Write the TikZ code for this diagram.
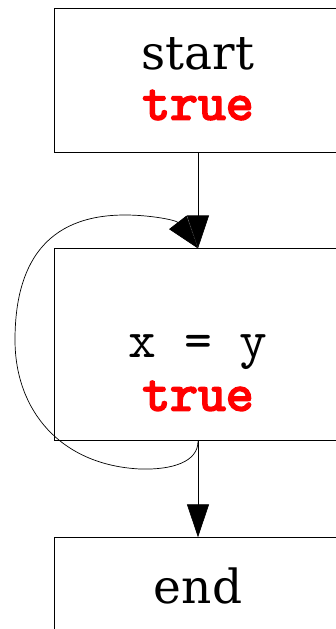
\documentclass[tikz,border=0pt]{standalone}
\usepackage{fontspec}
\setmainfont{DejaVu Serif}
\setmonofont{lmmono10-regular}[Extension=.otf]
\newfontfamily\condfont{lmmono10-regular}[Extension=.otf, FakeBold=3.5]
\usetikzlibrary{positioning, arrows.meta}
\definecolor{CondRed}{RGB}{255, 0, 0}

\begin{document}
\begin{tikzpicture}[
            stmtbox/.style={draw, line width=0.9pt, minimum width=288pt, inner sep=0pt},
            shortbox/.style={stmtbox, minimum height=144pt},
            tallbox/.style={stmtbox, minimum height=192pt},
            stmtname/.style={anchor=base, inner sep=0pt, font=\fontsize{47}{50}\selectfont},
            stmtcode/.style={stmtname, font=\fontsize{53}{50}\selectfont\ttfamily},
            stmtcond/.style={stmtname, font=\fontsize{53}{50}\selectfont\condfont, text=CondRed},
            flow/.style={-{Triangle[length=33pt, width=22pt]}, line width=0.7pt}
        ]
            \clip (0,0) rectangle (336pt,-629pt);

            % Statement boxes
            \node[shortbox] (start) at (198pt,-80pt) {};
            \node[tallbox, below=96pt of start] (assign) {};
            \node[shortbox, below=96pt of assign] (stop) {};

            % Box texts
            \node[stmtname] (startname) at ([yshift=-62pt]start.north) {start};
            \node[stmtcond] (startcond) at ([yshift=-112pt]start.north) {true};
            \node[stmtcode] (assigncode) at ([yshift=-109pt]assign.north) {x = y};
            \node[stmtcond] (assigncond) at ([yshift=-162pt]assign.north) {true};
            \node[stmtname] (stopname) at ([yshift=-66pt]stop.north) {end};

            % Control flow
            \draw[flow] (start) -- (assign);
            \draw[flow] (assign) -- (stop);

            % Self loop - leaves the bottom, comes back in at the top
            \draw[flow] (assign.south)
                .. controls (198pt,-462pt) and (172pt,-470pt) .. (140pt,-469pt)
                .. controls (60pt,-465pt) and (15pt,-410pt) .. (15pt,-340pt)
                .. controls (15pt,-265pt) and (45pt,-215pt) .. (125pt,-215pt)
                .. controls (150pt,-215pt) and (176pt,-220pt) .. (assign.north);
        \end{tikzpicture}
\end{document}
